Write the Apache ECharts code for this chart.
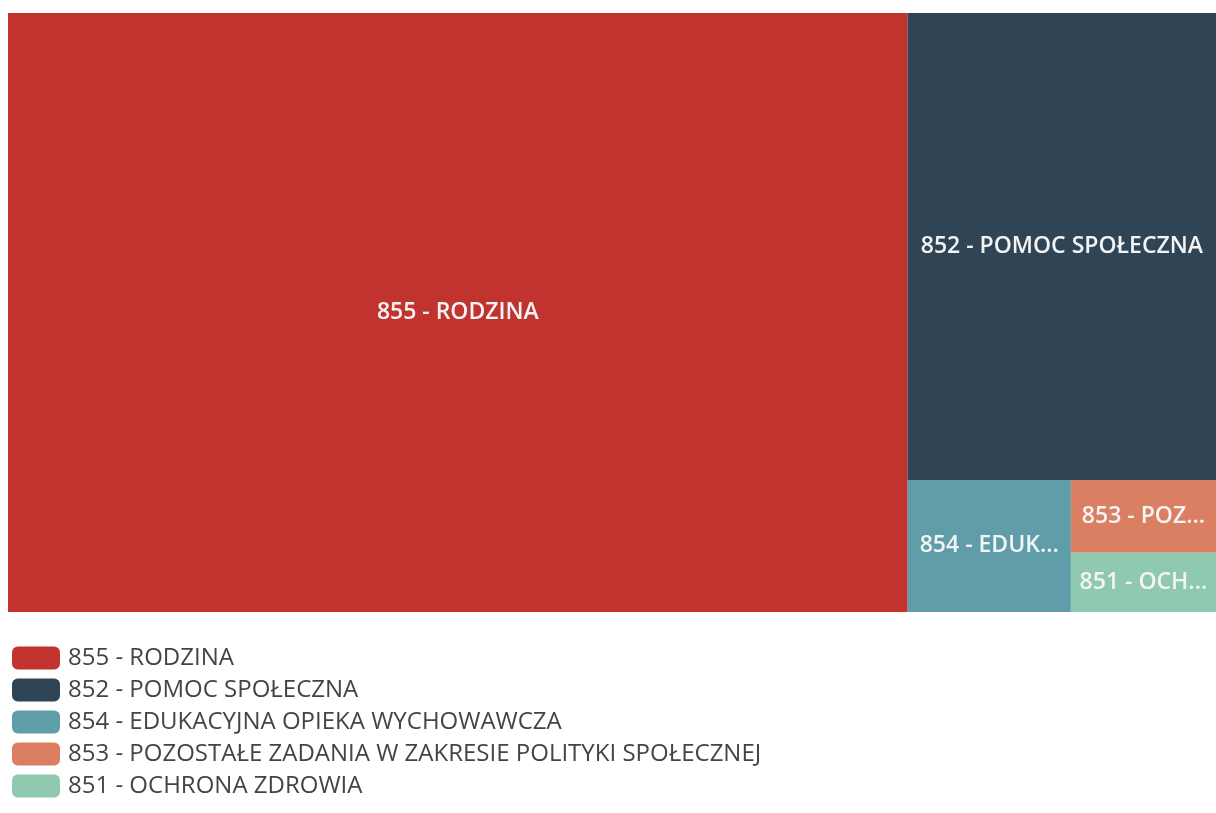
<!DOCTYPE html>
<html>
<head>
<meta charset="utf-8">
<script src="https://cdn.jsdelivr.net/npm/echarts@6/dist/echarts.min.js"></script>
<style>
  html, body { margin: 0; padding: 0; background: #fff; }
  #chart { width: 1216px; height: 813px; }
</style>
</head>
<body>
<div id="chart"></div>
<script>
// share of the budget per chapter
const names = [
  '855 - RODZINA',
  '852 - POMOC SPOŁECZNA',
  '854 - EDUKACYJNA OPIEKA WYCHOWAWCZA',
  '853 - POZOSTAŁE ZADANIA W ZAKRESIE POLITYKI SPOŁECZNEJ',
  '851 - OCHRONA ZDROWIA'
]
const values = [74.5, 19.9, 2.98, 1.46, 1.19]
const colors = ['#c1332f', '#2f4454', '#5f9ea9', '#da7f62', '#8fc9af']

const chart = echarts.init(document.getElementById('chart'))

const items = names.map((name, i) => ({
  name,
  value: values[i],
  itemStyle: { color: colors[i] }
}))

const option = {
  animation: false,
  legend: {
    orient: 'vertical',
    left: 12,
    top: 646,
    padding: 0,
    itemWidth: 48,
    itemHeight: 23,
    itemGap: 8,
    icon: 'roundRect',
    data: names,
    selectedMode: false,
    textStyle: {
      fontFamily: 'Open Sans',
      fontSize: 24,
      color: '#444',
      padding: [0, 0, 0, 3]
    }
  },
  series: [
    {
      type: 'treemap',
      left: 8,
      top: 13,
      right: 0,
      bottom: 201,
      roam: false,
      nodeClick: false,
      breadcrumb: { show: false },
      itemStyle: { borderWidth: 0, gapWidth: 0 },
      label: {
        show: true,
        position: 'inside',
        fontFamily: 'Open Sans',
        fontWeight: 600,
        fontSize: 23,
        color: '#f4f4f4',
        overflow: 'truncate',
        ellipsis: '...'
      },
      data: items
    },
    {
      // invisible pie only to feed the legend
      type: 'pie',
      radius: [0, 0],
      silent: true,
      showEmptyCircle: false,
      label: { show: false },
      labelLine: { show: false },
      data: items
    }
  ]
}

chart.setOption(option)
</script>
</body>
</html>
